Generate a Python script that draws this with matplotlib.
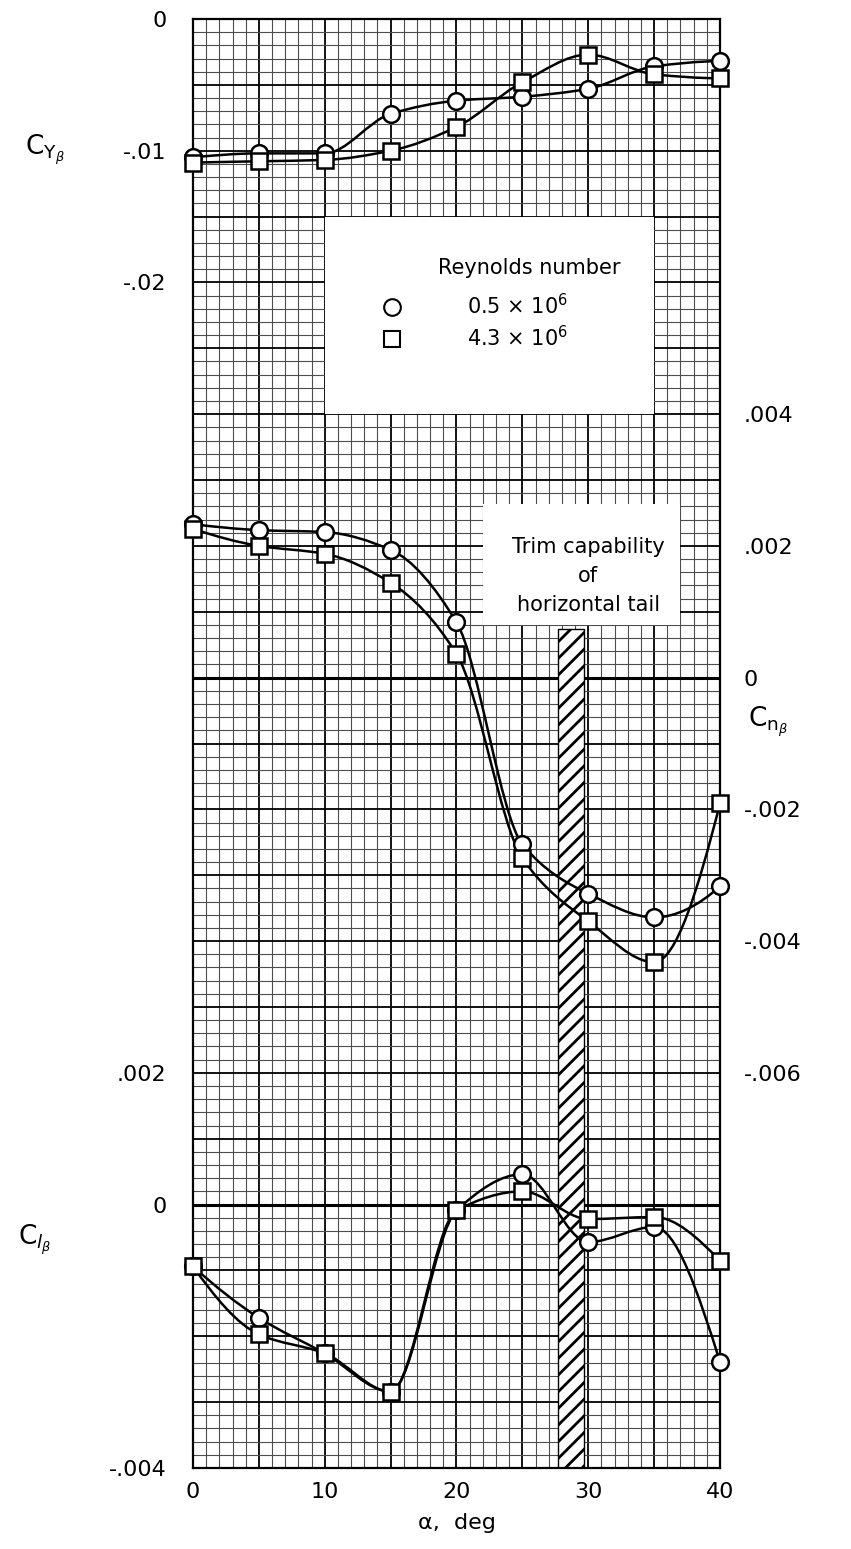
import numpy as np
import matplotlib
matplotlib.use('Agg')
import matplotlib.pyplot as plt
from matplotlib.path import Path
from matplotlib.patches import PathPatch, Rectangle
from matplotlib.lines import Line2D

# angle of attack, deg
alpha = [0, 5, 10, 15, 20, 25, 30, 35, 40]

# side force derivative
cy_low = [-0.0105, -0.0102, -0.0102, -0.0072, -0.0062, -0.0059, -0.0053, -0.0036, -0.0032]
cy_high = [-0.0109, -0.0108, -0.0107, -0.0100, -0.0082, -0.0048, -0.0027, -0.0042, -0.0045]

# yawing moment derivative
cn_low = [0.00233, 0.00224, 0.00221, 0.00194, 0.00084, -0.00253, -0.00328, -0.00364, -0.00317]
cn_high = [0.00226, 0.00200, 0.00188, 0.00144, 0.00036, -0.00274, -0.00370, -0.00432, -0.00191]

# rolling moment derivative
cl_low = [-0.00094, -0.00172, -0.00226, -0.00284, -0.00009, 0.00046, -0.00057, -0.00034, -0.00239]
cl_high = [-0.00094, -0.00197, -0.00226, -0.00284, -0.00009, 0.00020, -0.00022, -0.00019, -0.00085]

reynolds = ['0.5 × 10$^6$', '4.3 × 10$^6$']

cy_ticks = [0, -0.01, -0.02]
cy_labels = ['0', '-.01', '-.02']
cn_ticks = [0.004, 0.002, 0, -0.002, -0.004, -0.006]
cn_labels = ['.004', '.002', '0', '-.002', '-.004', '-.006']
cl_ticks = [0.002, 0, -0.004]
cl_labels = ['.002', '0', '-.004']


def slopes(x, y):
    # shape preserving (Fritsch-Carlson) slopes, no overshoot at the turns
    h = np.diff(x)
    d = np.diff(y) / h
    n = len(x)
    m = np.zeros(n)
    for k in range(1, n - 1):
        if d[k - 1] * d[k] > 0:
            w1 = 2 * h[k] + h[k - 1]
            w2 = h[k] + 2 * h[k - 1]
            m[k] = (w1 + w2) / (w1 / d[k - 1] + w2 / d[k])
    for k, (i, j) in [(0, (0, 1)), (n - 1, (-1, -2))]:
        e = ((2 * h[i] + h[j]) * d[i] - h[i] * d[j]) / (h[i] + h[j])
        if np.sign(e) != np.sign(d[i]):
            e = 0.0
        elif np.sign(d[i]) != np.sign(d[j]) and abs(e) > 3 * abs(d[i]):
            e = 3 * d[i]
        m[k] = e
    return m


def faired_curve(x, y):
    # hermite pieces handed to matplotlib as cubic beziers
    x = np.asarray(x, float)
    y = np.asarray(y, float)
    m = slopes(x, y)
    verts = [(x[0], y[0])]
    codes = [Path.MOVETO]
    for i in range(len(x) - 1):
        h = (x[i + 1] - x[i]) / 3.0
        verts += [(x[i] + h, y[i] + h * m[i]),
                  (x[i + 1] - h, y[i + 1] - h * m[i + 1]),
                  (x[i + 1], y[i + 1])]
        codes += [Path.CURVE4] * 3
    return Path(verts, codes)


def plot_pair(axis, low, high):
    for vals, mk, ms in [(low, 'o', 12), (high, 's', 11)]:
        axis.add_patch(PathPatch(faired_curve(alpha, vals), fill=False,
                                 ec='black', lw=1.8, zorder=2, clip_on=False))
        axis.plot(alpha, vals, ls='none', marker=mk, ms=ms, mfc='white',
                  mec='black', mew=1.8, zorder=3, clip_on=False)


plt.rcParams['font.family'] = 'DejaVu Sans'
plt.rcParams['hatch.linewidth'] = 2.0

fig = plt.figure(figsize=(8.51, 15.49), dpi=100)
ax = fig.add_axes([193 / 851, 1 - 1468 / 1549, 527 / 851, 1449 / 1549])

# graph paper in grid squares
ax.set_xlim(0, 40)
ax.set_ylim(0, 110)
ax.set_xticks(range(0, 41, 5), labels=['0', '', '10', '', '20', '', '30', '', '40'])
ax.set_xticks(range(0, 41), minor=True)
ax.set_yticks(range(0, 111, 5))
ax.set_yticks(range(0, 111), minor=True)
ax.set_axisbelow(True)
ax.grid(which='minor', color='0.3', lw=0.8)
ax.grid(which='major', color='black', lw=1.3)
ax.tick_params(which='both', length=0)
ax.tick_params(axis='x', labelsize=16, pad=10)
ax.tick_params(axis='y', labelleft=False)
for sp in ax.spines.values():
    sp.set_linewidth(1.6)
ax.axhline(20, color='black', lw=2.2, zorder=0.6)
ax.axhline(60, color='black', lw=2.2, zorder=0.6)
ax.set_xlabel('α,  deg', fontsize=16, labelpad=8)

# legend and note panels
ax.add_patch(Rectangle((10, 80), 25, 15, fc='white', ec='none', zorder=1))
ax.add_patch(Rectangle((22, 64), 15, 9.2, fc='white', ec='none', zorder=1))
ax.text(30, 67.7, 'Trim capability\nof\nhorizontal tail', ha='center', va='center',
        fontsize=15, linespacing=1.55, zorder=2)
ax.add_patch(Rectangle((27.7, 0), 2.0, 63.7, fc='white', ec='black', lw=1.0,
                       hatch='//', zorder=1))

# data axes, one scale per derivative
ax_cy = ax.twinx()
ax_cn = ax.twinx()
ax_cl = ax.twinx()
for a in (ax_cy, ax_cn, ax_cl):
    for sp in a.spines.values():
        sp.set_visible(False)
    a.tick_params(length=0, labelsize=16)

ax_cy.set_ylim(-0.110, 0.0)
ax_cy.yaxis.tick_left()
ax_cy.set_yticks(cy_ticks, labels=cy_labels)
ax_cy.tick_params(pad=19)

ax_cn.set_ylim(-0.012, 0.010)
ax_cn.set_yticks(cn_ticks, labels=cn_labels)
ax_cn.tick_params(pad=17)

ax_cl.set_ylim(-0.004, 0.018)
ax_cl.yaxis.tick_left()
ax_cl.set_yticks(cl_ticks, labels=cl_labels)
ax_cl.tick_params(pad=19)

plot_pair(ax_cy, cy_low, cy_high)
plot_pair(ax_cn, cn_low, cn_high)
plot_pair(ax_cl, cl_low, cl_high)

ax.text(25.5, 91.1, 'Reynolds number', ha='center', va='center', fontsize=15, zorder=2)
handles = [Line2D([], [], ls='none', marker='o', ms=12, mfc='white', mec='black', mew=1.5),
           Line2D([], [], ls='none', marker='s', ms=11, mfc='white', mec='black', mew=1.5)]
ax.legend(handles, reynolds, loc='upper left', bbox_to_anchor=(13.5, 89.2),
          bbox_transform=ax.transData, frameon=False, fontsize=15,
          handlelength=2.0, handletextpad=2.6, labelspacing=0.35,
          borderpad=0, borderaxespad=0)

fig.text(45 / 851, 1 - 150 / 1549, r'$\mathrm{C}_{\mathrm{Y}_\beta}$', fontsize=19,
         ha='center', va='center')
fig.text(768 / 851, 1 - 722 / 1549, r'$\mathrm{C}_{\mathrm{n}_\beta}$', fontsize=19,
         ha='center', va='center')
fig.text(35 / 851, 1 - 1240 / 1549, r'$\mathrm{C}_{l_\beta}$', fontsize=19,
         ha='center', va='center')

fig.savefig('out.png', dpi=100, facecolor='white')
